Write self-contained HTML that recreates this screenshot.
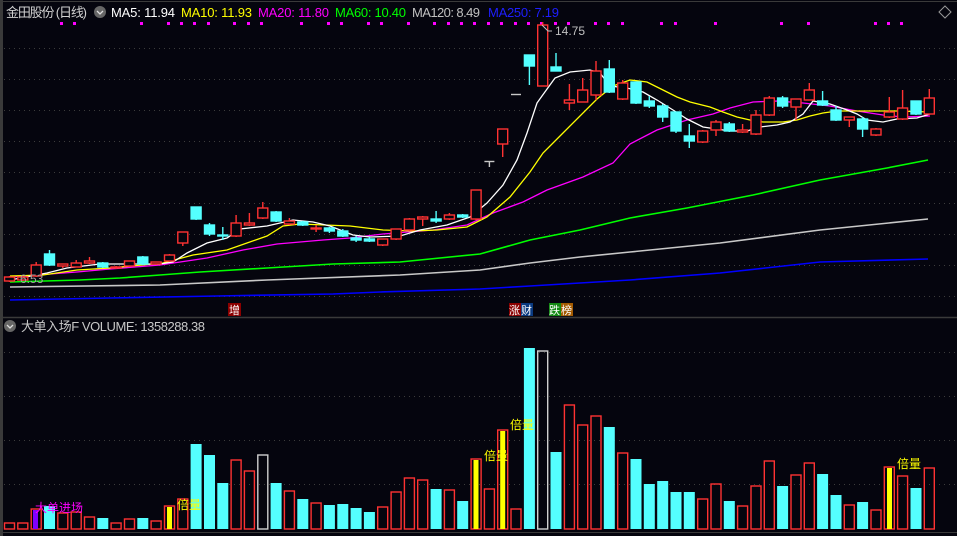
<!DOCTYPE html>
<html><head><meta charset="utf-8"><style>
html,body{margin:0;padding:0;background:#05050e;}
svg{display:block;font-family:"Liberation Sans","Noto Sans CJK SC",sans-serif;}
</style></head><body>
<svg width="957" height="536" viewBox="0 0 957 536" xmlns="http://www.w3.org/2000/svg">
<rect width="957" height="536" fill="#05050e"/>
<rect x="0" y="0" width="3" height="536" fill="#3a3a3a"/>
<line x1="0" y1="1.5" x2="957" y2="1.5" stroke="#3a3a3a"/>
<line x1="0" y1="317.5" x2="957" y2="317.5" stroke="#3a3a3a" stroke-width="1.5"/>
<line x1="0" y1="532.5" x2="957" y2="532.5" stroke="#3a3a3a"/>
<g stroke="#3c3c3c" stroke-dasharray="1,4">
<line x1="4" y1="48.5" x2="957" y2="48.5"/><line x1="4" y1="79.5" x2="957" y2="79.5"/>
<line x1="4" y1="110.5" x2="957" y2="110.5"/><line x1="4" y1="141.5" x2="957" y2="141.5"/>
<line x1="4" y1="172.5" x2="957" y2="172.5"/><line x1="4" y1="203.5" x2="957" y2="203.5"/>
<line x1="4" y1="234.5" x2="957" y2="234.5"/><line x1="4" y1="265.5" x2="957" y2="265.5"/>
<line x1="4" y1="296.5" x2="957" y2="296.5"/>
<line x1="4" y1="352.5" x2="957" y2="352.5"/><line x1="4" y1="396.5" x2="957" y2="396.5"/>
<line x1="4" y1="440.5" x2="957" y2="440.5"/><line x1="4" y1="484.5" x2="957" y2="484.5"/>
</g>
<!-- header -->
<g font-size="13">
<text x="6" y="17" fill="#d0d0d0" textLength="81">金田股份 (日线)</text>
<circle cx="100" cy="12" r="6" fill="#666"/><path d="M97 11 L100 14 L103 11" stroke="#ddd" fill="none" stroke-width="1.3"/>
<text x="111" y="17" fill="#ffffff" textLength="64">MA5: 11.94</text>
<text x="181" y="17" fill="#ffff00" textLength="71">MA10: 11.93</text>
<text x="258" y="17" fill="#ff00ff" textLength="71">MA20: 11.80</text>
<text x="335" y="17" fill="#00ff00" textLength="71">MA60: 10.40</text>
<text x="412" y="17" fill="#c0c0c0" textLength="68">MA120: 8.49</text>
<text x="488" y="17" fill="#1e1eff" textLength="71">MA250: 7.19</text>
</g>
<path d="M945 6 L951 12 L945 18 L939 12 Z" stroke="#999" fill="none"/>
<g fill="#ff00ff">
<rect x="60" y="22" width="3" height="3"/><rect x="73" y="22" width="3" height="3"/><rect x="140" y="22" width="3" height="3"/><rect x="167" y="22" width="3" height="3"/><rect x="180" y="22" width="3" height="3"/><rect x="193" y="22" width="3" height="3"/><rect x="207" y="22" width="3" height="3"/><rect x="233" y="22" width="3" height="3"/><rect x="247" y="22" width="3" height="3"/><rect x="260" y="22" width="3" height="3"/><rect x="300" y="22" width="3" height="3"/><rect x="327" y="22" width="3" height="3"/><rect x="340" y="22" width="3" height="3"/><rect x="367" y="22" width="3" height="3"/><rect x="380" y="22" width="3" height="3"/><rect x="407" y="22" width="3" height="3"/><rect x="433" y="22" width="3" height="3"/><rect x="447" y="22" width="3" height="3"/><rect x="460" y="22" width="3" height="3"/><rect x="473" y="22" width="3" height="3"/><rect x="487" y="22" width="3" height="3"/><rect x="500" y="22" width="3" height="3"/><rect x="514" y="22" width="3" height="3"/><rect x="527" y="22" width="3" height="3"/><rect x="540" y="22" width="3" height="3"/><rect x="554" y="22" width="3" height="3"/><rect x="567" y="22" width="3" height="3"/><rect x="594" y="22" width="3" height="3"/><rect x="607" y="22" width="3" height="3"/><rect x="621" y="22" width="3" height="3"/><rect x="660" y="22" width="3" height="3"/><rect x="674" y="22" width="3" height="3"/><rect x="714" y="22" width="3" height="3"/><rect x="780" y="22" width="3" height="3"/><rect x="807" y="22" width="3" height="3"/><rect x="874" y="22" width="3" height="3"/><rect x="887" y="22" width="3" height="3"/><rect x="900" y="22" width="3" height="3"/>
</g>
<!-- MA lines -->
<g fill="none" stroke-width="1.3">
<polyline stroke="#0000ff" stroke-width="1.6" points="10,300 110,298 217,296 333,294 380,292 480,289 530,286 580,283 630,280 720,273 820,262 928,259"/>
<polyline stroke="#c8c8c8" stroke-width="1.6" points="10,287 160,285 267,280 400,275 480,270 530,263 580,257 630,252 720,243 820,230 928,219"/>
<polyline stroke="#00ff00" stroke-width="1.6" points="10,282 80,280 120,278 160,275 200,272 267,268 333,264 400,262 480,254 530,240 580,230 630,218 687,208 753,195 820,180 887,168 928,160"/>
<polyline stroke="#ff00ff" points="10,277 77,272 110,269 160,265 207,258 243,250 277,244 323,240 350,238 383,234 433,230 467,225 493,213 523,202 547,190 583,177 613,163 630,144 657,130 687,120 713,114 730,108 753,102 777,101 803,103 830,106 857,111 883,115 903,117 930,116"/>
<polyline stroke="#ffff00" points="10,276 43,275 77,270 110,268 163,263 193,255 227,250 267,236 283,226 300,224 350,226 383,230 413,231 437,230 467,227 487,217 510,197 530,172 543,153 563,133 597,99 613,86 630,80 647,82 663,90 677,97 690,102 710,107 723,112 737,117 750,120 763,122 783,122 797,120 810,116 823,113 837,111 863,111 897,111 930,112"/>
<polyline stroke="#ffffff" points="10,280 47,273 67,268 100,264 160,264 173,262 187,253 207,243 227,238 240,229 267,226 293,220 313,222 330,226 353,235 370,237 400,236 420,230 447,225 470,217 487,203 503,185 517,160 527,133 537,103 542,96 555,78 570,72 590,70 600,73 610,86 627,88 643,92 657,100 673,110 687,119 703,127 730,131 747,131 760,127 777,125 790,122 803,114 813,101 830,104 847,110 857,114 867,120 883,122 897,119 917,118 930,114"/>
</g>
<!-- candles -->
<g stroke-width="1.4">
<g stroke="#ff3232" fill="#05050e">
<line x1="9.5" y1="276" x2="9.5" y2="282"/><rect x="4.5" y="277" width="10" height="4"/>
<line x1="22.8" y1="276" x2="22.8" y2="281"/><rect x="17.8" y="277" width="10" height="3"/>
<line x1="36.2" y1="262" x2="36.2" y2="277"/><rect x="31.2" y="265" width="10" height="11"/>
<line x1="62.8" y1="264" x2="62.8" y2="268"/><rect x="57.8" y="264" width="10" height="2"/>
<line x1="76.2" y1="260" x2="76.2" y2="267"/><rect x="71.2" y="263" width="10" height="4"/>
<line x1="89.5" y1="257" x2="89.5" y2="264"/><rect x="84.5" y="261" width="10" height="2"/>
<line x1="116.1" y1="266" x2="116.1" y2="269"/><rect x="111.1" y="267" width="10" height="1"/>
<line x1="129.5" y1="261" x2="129.5" y2="267"/><rect x="124.5" y="261" width="10" height="5"/>
<line x1="156.1" y1="262" x2="156.1" y2="265"/><rect x="151.1" y="262" width="10" height="2"/>
<line x1="169.5" y1="254" x2="169.5" y2="262"/><rect x="164.5" y="255" width="10" height="6"/>
<line x1="182.8" y1="232" x2="182.8" y2="246"/><rect x="177.8" y="232" width="10" height="11"/>
<line x1="236.1" y1="215" x2="236.1" y2="237"/><rect x="231.1" y="223" width="10" height="13"/>
<line x1="249.4" y1="213" x2="249.4" y2="226"/><rect x="244.4" y="223" width="10" height="2"/>
<line x1="262.8" y1="202" x2="262.8" y2="219"/><rect x="257.8" y="208" width="10" height="10"/>
<line x1="289.4" y1="218" x2="289.4" y2="225"/><rect x="284.4" y="221" width="10" height="3"/>
<line x1="316.1" y1="225" x2="316.1" y2="232"/><rect x="311.1" y="228" width="10" height="1"/>
<line x1="382.7" y1="239" x2="382.7" y2="246"/><rect x="377.7" y="239" width="10" height="6"/>
<line x1="396.1" y1="229" x2="396.1" y2="240"/><rect x="391.1" y="229" width="10" height="10"/>
<line x1="409.4" y1="218" x2="409.4" y2="231"/><rect x="404.4" y="219" width="10" height="11"/>
<line x1="422.7" y1="216" x2="422.7" y2="226"/><rect x="417.7" y="217" width="10" height="2"/>
<line x1="449.4" y1="213" x2="449.4" y2="220"/><rect x="444.4" y="215" width="10" height="4"/>
<line x1="476.1" y1="190" x2="476.1" y2="220"/><rect x="471.1" y="190" width="10" height="29"/>
<line x1="502.7" y1="129" x2="502.7" y2="157"/><rect x="497.7" y="129" width="10" height="15"/>
<line x1="542.7" y1="22" x2="542.7" y2="86"/><rect x="537.7" y="25" width="10" height="61"/>
<line x1="569.4" y1="84" x2="569.4" y2="110"/><rect x="564.4" y="100" width="10" height="3"/>
<line x1="582.7" y1="78" x2="582.7" y2="102"/><rect x="577.7" y="90" width="10" height="12"/>
<line x1="596" y1="61" x2="596" y2="100"/><rect x="591" y="71" width="10" height="24"/>
<line x1="622.7" y1="80" x2="622.7" y2="100"/><rect x="617.7" y="83" width="10" height="16"/>
<line x1="702.7" y1="130" x2="702.7" y2="143"/><rect x="697.7" y="131" width="10" height="11"/>
<line x1="716" y1="120" x2="716" y2="136"/><rect x="711" y="122" width="10" height="8"/>
<line x1="742.6" y1="124" x2="742.6" y2="133"/><rect x="737.6" y="130" width="10" height="2"/>
<line x1="756" y1="110" x2="756" y2="135"/><rect x="751" y="115" width="10" height="19"/>
<line x1="769.3" y1="96" x2="769.3" y2="116"/><rect x="764.3" y="98" width="10" height="17"/>
<line x1="796" y1="99" x2="796" y2="120"/><rect x="791" y="99" width="10" height="8"/>
<line x1="809.3" y1="83" x2="809.3" y2="100"/><rect x="804.3" y="90" width="10" height="10"/>
<line x1="849.3" y1="117" x2="849.3" y2="127"/><rect x="844.3" y="117" width="10" height="3"/>
<line x1="876" y1="128" x2="876" y2="136"/><rect x="871" y="129" width="10" height="6"/>
<line x1="889.3" y1="97" x2="889.3" y2="118"/><rect x="884.3" y="112" width="10" height="5"/>
<line x1="902.6" y1="90" x2="902.6" y2="120"/><rect x="897.6" y="108" width="10" height="11"/>
<line x1="929.3" y1="89" x2="929.3" y2="115"/><rect x="924.3" y="98" width="10" height="16"/>
</g>
<g stroke="#54ffff" fill="#54ffff">
<line x1="49.5" y1="250" x2="49.5" y2="266"/><rect x="44.5" y="254" width="10" height="11"/>
<line x1="102.8" y1="262" x2="102.8" y2="268"/><rect x="97.8" y="263" width="10" height="4"/>
<line x1="142.8" y1="256" x2="142.8" y2="265"/><rect x="137.8" y="257" width="10" height="7"/>
<line x1="196.1" y1="207" x2="196.1" y2="220"/><rect x="191.1" y="207" width="10" height="12"/>
<line x1="209.5" y1="223" x2="209.5" y2="236"/><rect x="204.5" y="225" width="10" height="9"/>
<line x1="222.8" y1="227" x2="222.8" y2="240"/><rect x="217.8" y="235" width="10" height="1"/>
<line x1="276.1" y1="211" x2="276.1" y2="222"/><rect x="271.1" y="212" width="10" height="9"/>
<line x1="302.8" y1="221" x2="302.8" y2="226"/><rect x="297.8" y="222" width="10" height="3"/>
<line x1="329.4" y1="227" x2="329.4" y2="233"/><rect x="324.4" y="228" width="10" height="3"/>
<line x1="342.8" y1="229" x2="342.8" y2="237"/><rect x="337.8" y="231" width="10" height="5"/>
<line x1="356.1" y1="236" x2="356.1" y2="242"/><rect x="351.1" y="238" width="10" height="2"/>
<line x1="369.4" y1="237" x2="369.4" y2="242"/><rect x="364.4" y="239" width="10" height="2"/>
<line x1="436.1" y1="211" x2="436.1" y2="223"/><rect x="431.1" y="219" width="10" height="2"/>
<line x1="462.7" y1="214" x2="462.7" y2="218"/><rect x="457.7" y="215" width="10" height="2"/>
<line x1="529.4" y1="55" x2="529.4" y2="85"/><rect x="524.4" y="55" width="10" height="11"/>
<line x1="556" y1="53" x2="556" y2="71"/><rect x="551" y="67" width="10" height="4"/>
<line x1="609.3" y1="60" x2="609.3" y2="93"/><rect x="604.3" y="69" width="10" height="23"/>
<line x1="636" y1="82" x2="636" y2="104"/><rect x="631" y="82" width="10" height="21"/>
<line x1="649.3" y1="96" x2="649.3" y2="108"/><rect x="644.3" y="101" width="10" height="5"/>
<line x1="662.7" y1="104" x2="662.7" y2="122"/><rect x="657.7" y="106" width="10" height="11"/>
<line x1="676" y1="112" x2="676" y2="133"/><rect x="671" y="112" width="10" height="19"/>
<line x1="689.3" y1="124" x2="689.3" y2="148"/><rect x="684.3" y="136" width="10" height="5"/>
<line x1="729.3" y1="122" x2="729.3" y2="132"/><rect x="724.3" y="124" width="10" height="7"/>
<line x1="782.6" y1="96" x2="782.6" y2="108"/><rect x="777.6" y="98" width="10" height="8"/>
<line x1="822.6" y1="91" x2="822.6" y2="106"/><rect x="817.6" y="101" width="10" height="4"/>
<line x1="836" y1="106" x2="836" y2="121"/><rect x="831" y="110" width="10" height="10"/>
<line x1="862.6" y1="117" x2="862.6" y2="137"/><rect x="857.6" y="119" width="10" height="10"/>
<line x1="916" y1="101" x2="916" y2="115"/><rect x="911" y="101" width="10" height="13"/>
</g>
<g stroke="#c8c8c8">
<line x1="484.4" y1="161.5" x2="494.4" y2="161.5"/><line x1="489.4" y1="161" x2="489.4" y2="167"/>
<line x1="511" y1="94.5" x2="521" y2="94.5"/>
</g>
</g>
<path d="M542 25 L548 31 L552 31" stroke="#c0c0c0" fill="none"/>
<text x="555" y="35" fill="#c0c0c0" font-size="12">14.75</text>
<text x="20" y="283" fill="#a0a0a0" font-size="12">6.53</text>
<!-- signal labels -->
<g font-size="11" fill="#fff">
<rect x="228" y="303" width="13" height="13" fill="#8b0000"/><text x="229" y="314">增</text>
<rect x="509" y="303" width="12" height="13" fill="#8b0000"/><text x="509" y="314">涨</text>
<rect x="521" y="303" width="12" height="13" fill="#0a3a80"/><text x="521" y="314">财</text>
<rect x="549" y="303" width="12" height="13" fill="#138a13"/><text x="549" y="314">跌</text>
<rect x="561" y="303" width="12" height="13" fill="#a35a00"/><text x="561" y="314">榜</text>
</g>
<!-- volume header -->
<circle cx="10" cy="326" r="6" fill="#666"/><path d="M7 325 L10 328 L13 325" stroke="#ddd" fill="none" stroke-width="1.3"/>
<text x="21" y="331" fill="#c8c8c8" font-size="13" textLength="184">大单入场F VOLUME: 1358288.38</text>
<!-- volume bars -->
<g stroke="#ff3232" stroke-width="1.4" fill="none">
<rect x="4.5" y="523" width="10" height="6"/><rect x="17.8" y="523" width="10" height="6"/><rect x="31.2" y="509" width="10" height="20"/>
<rect x="57.8" y="513" width="10" height="16"/><rect x="71.2" y="512" width="10" height="17"/><rect x="84.5" y="517" width="10" height="12"/>
<rect x="111.1" y="523" width="10" height="6"/><rect x="124.5" y="519" width="10" height="10"/><rect x="151.1" y="521" width="10" height="8"/>
<rect x="164.5" y="506" width="10" height="23"/><rect x="177.8" y="499" width="10" height="30"/>
<rect x="231.1" y="460" width="10" height="69"/><rect x="244.4" y="471" width="10" height="58"/><rect x="257.8" y="455" width="10" height="74" stroke="#cfcfcf"/>
<rect x="284.4" y="491" width="10" height="38"/><rect x="311.1" y="503" width="10" height="26"/>
<rect x="377.7" y="507" width="10" height="22"/><rect x="391.1" y="492" width="10" height="37"/><rect x="404.4" y="478" width="10" height="51"/><rect x="417.7" y="480" width="10" height="49"/>
<rect x="444.4" y="490" width="10" height="39"/><rect x="471.1" y="459" width="10" height="70"/><rect x="484.4" y="489" width="10" height="40"/>
<rect x="497.7" y="430" width="10" height="99"/><rect x="511" y="509" width="10" height="20"/><rect x="537.7" y="351" width="10" height="178" stroke="#cfcfcf"/>
<rect x="564.4" y="405" width="10" height="124"/><rect x="577.7" y="425" width="10" height="104"/><rect x="591" y="416" width="10" height="113"/>
<rect x="617.7" y="453" width="10" height="76"/><rect x="697.7" y="499" width="10" height="30"/><rect x="711" y="484" width="10" height="45"/>
<rect x="737.6" y="506" width="10" height="23"/><rect x="751" y="486" width="10" height="43"/><rect x="764.3" y="461" width="10" height="68"/>
<rect x="791" y="475" width="10" height="54"/><rect x="804.3" y="463" width="10" height="66"/><rect x="844.3" y="505" width="10" height="24"/>
<rect x="871" y="510" width="10" height="19"/><rect x="884.3" y="467" width="10" height="62"/><rect x="897.6" y="476" width="10" height="53"/><rect x="924.3" y="468" width="10" height="61"/>
</g>
<g fill="#54ffff">
<rect x="44" y="506" width="11" height="23"/><rect x="97.3" y="518" width="11" height="11"/><rect x="137.3" y="518" width="11" height="11"/>
<rect x="190.6" y="444" width="11" height="85"/><rect x="204" y="455" width="11" height="74"/><rect x="217.3" y="483" width="11" height="46"/>
<rect x="270.6" y="483" width="11" height="46"/><rect x="297.3" y="499" width="11" height="30"/><rect x="323.9" y="505" width="11" height="24"/>
<rect x="337.3" y="504" width="11" height="25"/><rect x="350.6" y="508" width="11" height="21"/><rect x="363.9" y="512" width="11" height="17"/>
<rect x="430.6" y="489" width="11" height="40"/><rect x="457.2" y="501" width="11" height="28"/>
<rect x="523.9" y="348" width="11" height="181"/><rect x="550.5" y="452" width="11" height="77"/><rect x="603.8" y="427" width="11" height="102"/>
<rect x="630.5" y="459" width="11" height="70"/><rect x="643.8" y="484" width="11" height="45"/><rect x="657.2" y="481" width="11" height="48"/>
<rect x="670.5" y="492" width="11" height="37"/><rect x="683.8" y="492" width="11" height="37"/><rect x="723.8" y="501" width="11" height="28"/>
<rect x="777.1" y="486" width="11" height="43"/><rect x="817.1" y="474" width="11" height="55"/><rect x="830.5" y="495" width="11" height="34"/>
<rect x="857.1" y="502" width="11" height="27"/><rect x="910.5" y="488" width="11" height="41"/>
</g>
<g fill="#ffff00">
<rect x="167" y="507" width="5" height="22"/><rect x="473.5" y="460" width="5" height="69"/><rect x="500.2" y="431" width="5" height="98"/><rect x="887" y="468" width="5" height="61"/>
</g>
<rect x="33" y="510" width="5" height="19" fill="#8000ff"/>
<g font-size="12">
<text x="35" y="512" fill="#ff00ff">大单进场</text>
<text x="177" y="509" fill="#ffff00">倍量</text>
<text x="484" y="460" fill="#ffff00">倍量</text>
<text x="510" y="429" fill="#ffff00">倍量</text>
<text x="897" y="468" fill="#ffff00">倍量</text>
</g>
</svg>
</body></html>
